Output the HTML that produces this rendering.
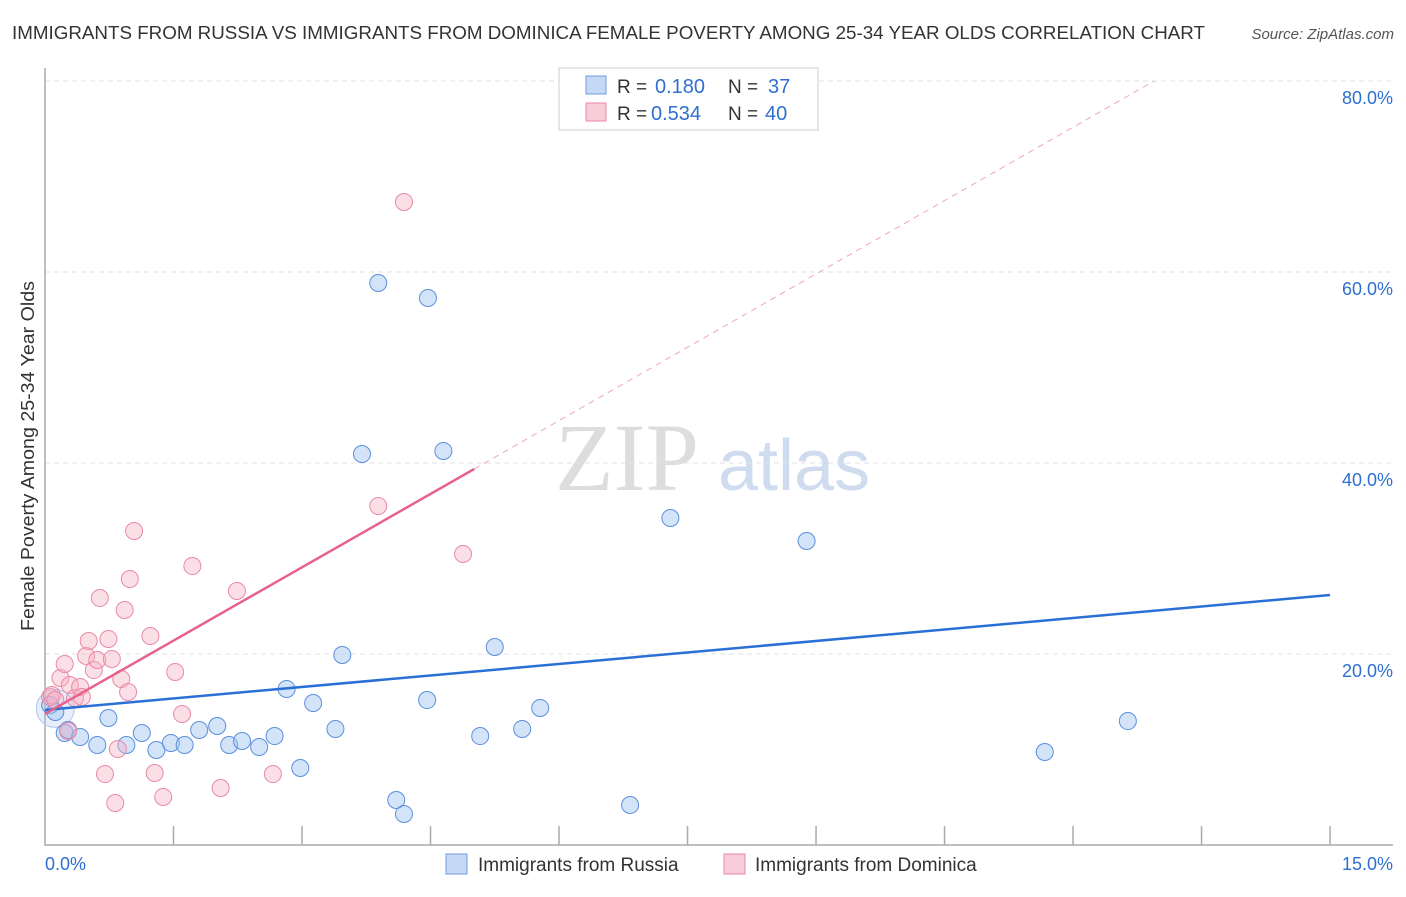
<!DOCTYPE html>
<html><head><meta charset="utf-8"><style>
body{margin:0;background:#fff;font-family:"Liberation Sans",sans-serif;}
</style></head><body>
<svg id="c" width="1406" height="892" xmlns="http://www.w3.org/2000/svg" style="font-family:'Liberation Sans',sans-serif">
<text x="12" y="39" font-size="18" fill="#333" textLength="1193" lengthAdjust="spacingAndGlyphs">IMMIGRANTS FROM RUSSIA VS IMMIGRANTS FROM DOMINICA FEMALE POVERTY AMONG 25-34 YEAR OLDS CORRELATION CHART</text>
<text x="1394" y="39" font-size="15" fill="#555" font-style="italic" text-anchor="end">Source: ZipAtlas.com</text>
<text x="34" y="456" font-size="18" fill="#333" text-anchor="middle" textLength="350" lengthAdjust="spacingAndGlyphs" transform="rotate(-90 34 456)">Female Poverty Among 25-34 Year Olds</text>
<text x="555" y="490" font-size="96" fill="#ddd" font-family="'Liberation Serif',serif">ZIP</text>
<text x="718" y="490" font-size="72" fill="#cfdcf0">atlas</text>
<g id="grid"></g><g id="marks"></g>
<g>
<rect x="559" y="68" width="259" height="62" fill="#fff" stroke="#ccc"/>
<rect x="586" y="76" width="20" height="18" fill="#c5d9f5" stroke="#6d9be0"/>
<rect x="586" y="103" width="20" height="18" fill="#f9ccd9" stroke="#e98aa6"/>
<text x="617" y="93" font-size="19" fill="#333">R =</text>
<text x="655" y="93" font-size="20" fill="#2e6fd1">0.180</text>
<text x="728" y="93" font-size="19" fill="#333">N =</text>
<text x="768" y="93" font-size="20" fill="#2e6fd1">37</text>
<text x="617" y="120" font-size="19" fill="#333">R =</text>
<text x="651" y="120" font-size="20" fill="#2e6fd1">0.534</text>
<text x="728" y="120" font-size="19" fill="#333">N =</text>
<text x="765" y="120" font-size="20" fill="#2e6fd1">40</text>
</g>
<rect x="446" y="854" width="21" height="20" fill="#c5d9f5" stroke="#6d9be0"/>
<text x="478" y="871" font-size="19" fill="#333">Immigrants from Russia</text>
<rect x="724" y="854" width="21" height="20" fill="#f9ccd9" stroke="#e98aa6"/>
<text x="755" y="871" font-size="19" fill="#333">Immigrants from Dominica</text>
<text x="45" y="870" font-size="18" fill="#2e6fd1">0.0%</text>
<text x="1393" y="870" font-size="18" fill="#2e6fd1" text-anchor="end">15.0%</text>
</svg>
<script>
const yTicks=[20,40,60,80];
const xTicks=[0,1.5,3,4.5,6,7.5,9,10.5,12,13.5,15];
const russiaX=[0.06,0.12,0.23,0.27,0.41,0.61,0.74,0.95,1.13,1.30,1.47,1.63,1.80,2.01,2.15,2.30,2.50,2.68,2.82,2.98,3.13,3.39,3.47,3.70,3.89,4.10,4.19,4.46,4.47,4.65,5.08,5.25,5.57,5.78,6.83,7.30,8.89,11.67,12.64];
const russiaY=[14.66,13.93,11.73,12.04,11.31,10.47,13.30,10.47,11.73,9.95,10.68,10.47,12.04,12.46,10.47,10.89,10.26,11.41,16.34,8.06,14.87,12.15,19.90,40.94,58.85,4.71,3.25,15.18,57.28,41.26,11.41,20.73,12.15,14.35,4.19,34.24,31.83,9.74,12.98];
const domX=[0.06,0.08,0.12,0.18,0.23,0.27,0.29,0.35,0.41,0.43,0.48,0.51,0.57,0.61,0.64,0.70,0.74,0.78,0.82,0.85,0.89,0.93,0.97,0.99,1.04,1.23,1.28,1.38,1.52,1.60,1.72,2.05,2.24,2.66,3.89,4.19,4.88];
const domY=[15.50,15.71,15.18,17.49,18.95,11.94,16.75,15.39,16.54,15.50,19.79,21.36,18.32,19.37,25.86,7.43,21.57,19.48,4.40,10.05,17.38,24.61,16.02,27.85,32.88,21.88,7.54,5.03,18.12,13.72,29.21,5.97,26.60,7.43,35.50,67.33,30.47];
const russiaTrend=[14.14,26.18];
const domTrend=[13.72,5.01,39.37];
const NS="http://www.w3.org/2000/svg";
const sx=v=>45+v*85.67, sy=v=>845-v*9.55;
function mk(t,a,p){const e=document.createElementNS(NS,t);for(const k in a)e.setAttribute(k,a[k]);p.appendChild(e);return e;}
const g=document.getElementById('grid'), m=document.getElementById('marks');
yTicks.forEach(t=>{
 const l=mk('line',{x1:45,x2:1393,y1:sy(t),y2:sy(t),stroke:'#e2e2e2','stroke-dasharray':'5,4'},g);
 
 
 const tx=mk('text',{x:1393,y:sy(t)+23,'font-size':18,fill:'#2e6fd1','text-anchor':'end'},g);
 tx.textContent=t.toFixed(1)+'%';
 
 
});
const ax=mk('path',{d:'M45 68 V845 H1393',fill:'none',stroke:'#aaa','stroke-width':1.5},g);


xTicks.forEach((t,i)=>{if(i==0)return;
 const l=mk('line',{x1:sx(t),x2:sx(t),y1:826,y2:845,stroke:'#aaa','stroke-width':1.5},g);
 
 
});
const big=mk('circle',{cx:sx(0.12),cy:sy(14.3),r:19,fill:'rgba(170,200,240,0.3)',stroke:'#b0c8ee','stroke-width':1},m);


russiaX.forEach((x,i)=>{
 const c=mk('circle',{cx:sx(x),cy:sy(russiaY[i]),r:8.5,fill:'rgba(160,195,240,0.45)',stroke:'#5b8fdc','stroke-width':1},m);
 
 
});
domX.forEach((x,i)=>{
 const c=mk('circle',{cx:sx(x),cy:sy(domY[i]),r:8.5,fill:'rgba(245,175,195,0.4)',stroke:'#e98aa6','stroke-width':1},m);
 
 
});
const rl=mk('line',{x1:sx(0),y1:sy(russiaTrend[0]),x2:sx(15),y2:sy(russiaTrend[1]),stroke:'#2a6fd6','stroke-width':2.5},m);


const slope=(domTrend[2]-domTrend[0])/domTrend[1];
const pl=mk('line',{x1:sx(0),y1:sy(domTrend[0]),x2:sx(domTrend[1]),y2:sy(domTrend[2]),stroke:'#e8628d','stroke-width':2.5},m);


const xe=(80-domTrend[0])/slope;
const pd=mk('line',{x1:sx(domTrend[1]),y1:sy(domTrend[2]),x2:sx(xe),y2:sy(80),stroke:'#f0a5bb','stroke-width':1,'stroke-dasharray':'6,5'},m);


</script>
</body></html>
